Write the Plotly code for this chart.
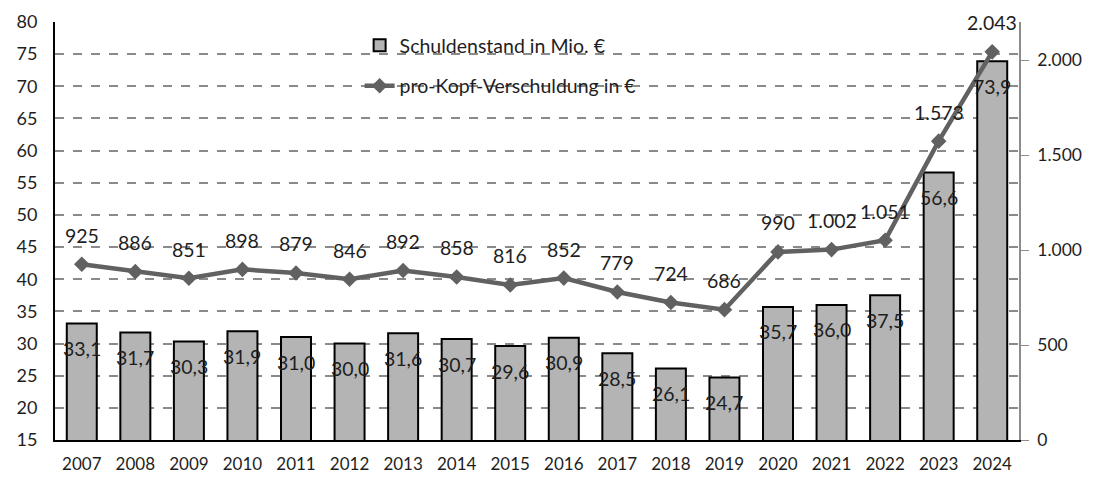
import plotly.graph_objects as go

years = list(range(2007, 2025))
schulden = [33.1, 31.7, 30.3, 31.9, 31.0, 30.0, 31.6, 30.7, 29.6, 30.9, 28.5, 26.1, 24.7, 35.7, 36.0, 37.5, 56.6, 73.9]
prokopf = [925, 886, 851, 898, 879, 846, 892, 858, 816, 852, 779, 724, 686, 990, 1002, 1051, 1573, 2043]

FONT = "Lato"
TXT = "#1e1e1e"

def de_dec(v):
    return f"{v:.1f}".replace(".", ",")

def de_int(v):
    return f"{v:,}".replace(",", ".")

fig = go.Figure()
fig.add_trace(go.Bar(
    x=years, y=schulden, name="Schuldenstand in Mio. €",
    marker=dict(color="#b4b4b4", line=dict(color="#000000", width=2)),
    width=0.56, legendgroup="a", yaxis="y",
))
fig.add_trace(go.Scatter(
    x=years, y=prokopf, name="pro-Kopf-Verschuldung in €",
    mode="lines+markers", line=dict(color="#616161", width=4.5),
    marker=dict(symbol="diamond", size=12, color="#616161"),
    legendgroup="b", yaxis="y2",
))

ann = []
for x, v in zip(years, schulden):
    ann.append(dict(x=x, y=v, xref="x", yref="y", text=de_dec(v), showarrow=False,
                    yshift=-25, font=dict(family=FONT, size=19.5, color=TXT)))
for x, v in zip(years, prokopf):
    ann.append(dict(x=x, y=v, xref="x", yref="y2", text=de_int(v), showarrow=False,
                    yshift=29, font=dict(family=FONT, size=19.5, color=TXT)))

fig.update_layout(
    width=1085, height=469,
    margin=dict(l=47, r=74, t=14, b=37),
    paper_bgcolor="white", plot_bgcolor="white",
    font=dict(family=FONT, size=17, color=TXT),
    separators=",.",
    annotations=ann,
    showlegend=True,
    legend=dict(x=0.316, y=0.99, xanchor="left", yanchor="top",
                bgcolor="rgba(0,0,0,0)", font=dict(family=FONT, size=19.5, color=TXT),
                traceorder="grouped", tracegroupgap=12),
    shapes=[dict(type="rect", xref="x", yref="y", x0=2009.95, x1=2019.66, y0=67.9, y1=78.0,
                 fillcolor="white", line=dict(width=0), layer="below")],
    xaxis=dict(range=[2006.5, 2024.5], tickvals=years, showline=True, linecolor="#000000", linewidth=2,
               ticks="outside", ticklen=8, tickcolor="rgba(0,0,0,0)", zeroline=False, automargin=False,
               tickfont=dict(family=FONT, size=17, color=TXT), showgrid=False),
    yaxis=dict(range=[15, 80], dtick=5, tick0=15, showline=True, linecolor="#000000", linewidth=2,
               showgrid=True, gridcolor="#8a8a8a", griddash="dash", gridwidth=1.5,
               ticks="outside", ticklen=12, tickcolor="rgba(0,0,0,0)", zeroline=False, automargin=False,
               tickfont=dict(family=FONT, size=18, color=TXT)),
    yaxis2=dict(range=[0, 2200], tickvals=[0, 500, 1000, 1500, 2000], overlaying="y", side="right",
                showline=True, linecolor="#8c8c8c", linewidth=1.5, showgrid=False, zeroline=False,
                ticks="outside", ticklen=8, tickcolor="#8c8c8c", separatethousands=True, automargin=False,
                ticklabelstandoff=5, tickfont=dict(family=FONT, size=17.5, color=TXT)),
)

fig.write_html("out.html")
